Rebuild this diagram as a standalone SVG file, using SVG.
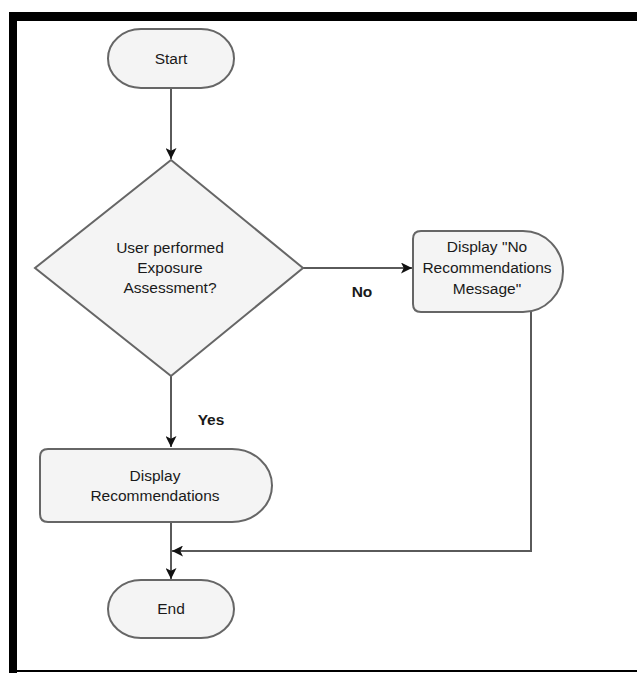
<svg xmlns="http://www.w3.org/2000/svg" width="637" height="673" viewBox="0 0 637 673">
  <style>
    .node { fill: #f4f4f4; stroke: #666666; stroke-width: 2; }
    .edge { fill: none; stroke: #5a5a5a; stroke-width: 2; }
    .lbl { font-family: "Liberation Sans", Arial, sans-serif; font-size: 15.5px; fill: #1a1a1a; text-anchor: middle; }
    .bold { font-weight: bold; }
  </style>
  <defs>
    <marker id="arrow" viewBox="0 0 10 10" refX="10" refY="5" markerWidth="5.5" markerHeight="5.5" orient="auto" markerUnits="strokeWidth">
      <path d="M0,0 L10,5 L0,10 L2.5,5 Z" fill="#111111"/>
    </marker>
  </defs>

  <!-- frame -->
  <rect x="0" y="0" width="637" height="673" fill="#ffffff"/>
  <rect x="9" y="12" width="628" height="9" fill="#000000"/>
  <rect x="9" y="12" width="8" height="661" fill="#000000"/>
  <rect x="17" y="670" width="620" height="2" fill="#000000"/>

  <!-- connectors -->
  <g id="connectors">
    <path class="edge" d="M171,88 L171,159" marker-end="url(#arrow)"/>
    <path class="edge" d="M303,268 L412,268" marker-end="url(#arrow)"/>
    <path class="edge" d="M171,376 L171,447" marker-end="url(#arrow)"/>
    <path class="edge" d="M531,312 L531,551 L172,551" marker-end="url(#arrow)"/>
    <path class="edge" d="M171,522 L171,579" marker-end="url(#arrow)"/>
    <text class="lbl bold" x="362" y="297">No</text>
    <text class="lbl bold" x="211" y="425">Yes</text>
  </g>

  <g id="start">
    <rect class="node" x="108" y="29" width="126" height="59" rx="33" ry="29.5"/>
    <text class="lbl" x="171" y="64">Start</text>
  </g>

  <g id="decision">
    <path class="node" d="M171,160 L303,268 L171,376 L35,268 Z"/>
    <text class="lbl" x="170" y="253">User performed</text>
    <text class="lbl" x="170" y="273">Exposure</text>
    <text class="lbl" x="170" y="293">Assessment?</text>
  </g>

  <g id="no-recs">
    <path class="node" d="M421,231 L523,231 A40,40.5 0 0 1 523,312 L421,312 Q413,312 413,304 L413,239 Q413,231 421,231 Z"/>
    <text class="lbl" x="487" y="252">Display "No</text>
    <text class="lbl" x="487" y="273">Recommendations</text>
    <text class="lbl" x="487" y="294">Message"</text>
  </g>

  <g id="show-recs">
    <path class="node" d="M48,449 L232,449 A40,36.5 0 0 1 232,522 L48,522 Q40,522 40,514 L40,457 Q40,449 48,449 Z"/>
    <text class="lbl" x="155" y="481">Display</text>
    <text class="lbl" x="155" y="501">Recommendations</text>
  </g>

  <g id="end">
    <rect class="node" x="108" y="580" width="126" height="58" rx="33" ry="29"/>
    <text class="lbl" x="171" y="614">End</text>
  </g>
</svg>
